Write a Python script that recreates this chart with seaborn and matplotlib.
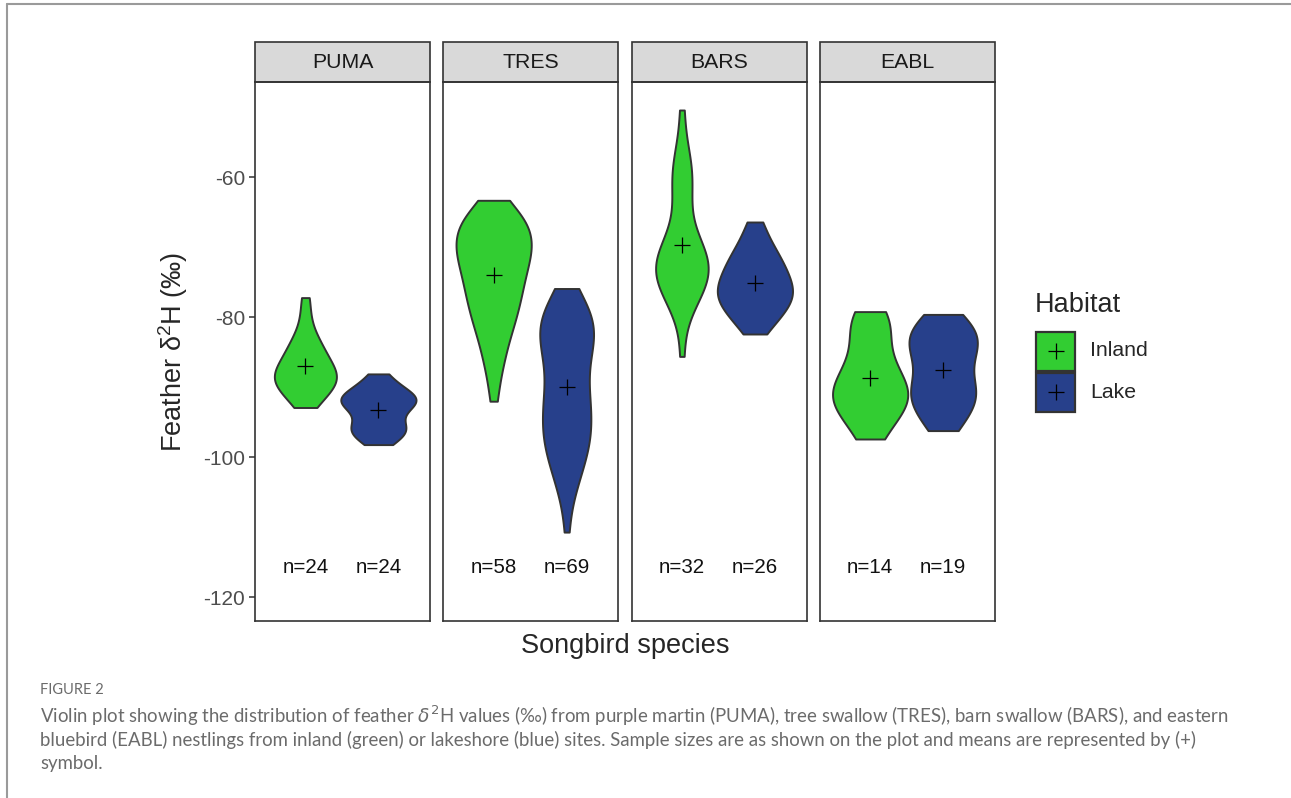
import pandas as pd
import seaborn as sns
import matplotlib.pyplot as plt
from matplotlib.patches import Rectangle
from matplotlib.lines import Line2D

species = ['PUMA', 'TRES', 'BARS', 'EABL']
habitats = ['Inland', 'Lake']
colors = {'Inland': '#32CD32', 'Lake': '#27408B'}

# feather d2H values (per mil)
puma_inland = [-77.2, -79.8, -81.9, -83.0, -83.8, -84.5, -85.1, -85.7, -86.2, -86.7, -87.1, -87.5,
               -87.9, -88.3, -88.6, -88.9, -89.2, -89.5, -89.9, -90.3, -90.8, -91.4, -92.1, -92.9]
puma_lake = [-88.1, -89.0, -89.8, -90.3, -90.7, -91.0, -91.3, -91.6, -91.8, -92.0, -92.3, -92.6,
             -92.9, -93.3, -93.8, -94.6, -95.2, -95.6, -95.9, -96.2, -96.6, -97.0, -97.6, -98.2]
tres_inland = [-63.3, -63.9, -64.4, -64.9, -65.3, -65.7,
               -66.0, -66.3, -66.6, -66.9, -67.2, -67.5, -67.8, -68.1, -68.4, -68.7, -69.0, -69.3,
               -69.6, -69.9, -70.2, -70.5, -70.8, -71.1, -71.4, -71.7, -72.0, -72.3, -72.6,
               -73.0, -73.4, -73.8, -74.2, -74.6, -75.0, -75.4, -75.8, -76.2, -76.6, -77.0, -77.4,
               -77.8, -78.3, -78.8, -79.3, -79.8, -80.3, -80.8, -81.4, -82.0, -82.6,
               -83.4, -84.4, -85.4, -86.4, -87.4, -89.5, -92.0]
tres_lake = [-75.9, -76.5, -77.0, -77.5, -78.0, -78.5, -78.9, -79.3, -79.7,
             -80.1, -80.4, -80.7, -81.0, -81.3, -81.6, -81.9, -82.2, -82.5, -82.8, -83.1, -83.4,
             -83.8, -84.2, -84.6, -85.0, -85.4, -85.8,
             -86.3, -86.8, -87.3, -87.8, -88.3, -88.8, -89.3, -89.8, -90.3, -90.8, -91.2, -91.6,
             -92.0, -92.4, -92.8, -93.2, -93.6, -94.0, -94.4, -94.8, -95.2, -95.6, -96.0, -96.4,
             -96.8, -97.2, -97.6, -98.0, -98.4, -98.8, -99.2, -99.6, -100.0,
             -100.6, -101.3, -102.0, -102.7, -103.4, -104.1, -104.9, -107.2, -110.7]
bars_inland = [-50.4, -55.8, -57.4, -58.6, -59.7, -60.8, -61.9, -63.0, -65.5, -67.6, -68.4, -69.1,
               -69.8, -70.5, -71.1, -71.7, -72.0, -72.3, -72.8, -73.0, -73.3, -73.8, -74.0, -74.3,
               -74.8, -75.4, -76.1, -76.8, -77.5, -78.3, -79.2, -85.6]
bars_lake = [-66.4, -68.0, -69.4, -70.2, -70.9, -71.6, -72.3, -72.8, -73.3, -73.8, -74.3, -74.8,
             -75.3, -75.7, -76.1, -76.5, -76.9, -77.3, -77.7, -78.2, -78.7, -79.2, -79.7, -80.4,
             -81.3, -82.4]
eabl_inland = [-79.2, -80.5, -82.0, -84.5, -86.5, -88.0, -89.2, -90.2, -91.0, -91.8, -92.6, -93.5,
               -95.0, -97.4]
eabl_lake = [-79.6, -80.6, -81.5, -82.3, -83.0, -83.7, -84.4, -85.2, -86.2, -87.4, -88.6, -89.6,
             -90.4, -91.1, -91.8, -92.6, -93.6, -94.8, -96.2]

groups = {
    ('PUMA', 'Inland'): puma_inland, ('PUMA', 'Lake'): puma_lake,
    ('TRES', 'Inland'): tres_inland, ('TRES', 'Lake'): tres_lake,
    ('BARS', 'Inland'): bars_inland, ('BARS', 'Lake'): bars_lake,
    ('EABL', 'Inland'): eabl_inland, ('EABL', 'Lake'): eabl_lake,
}
rows = []
for (sp, hab), vals in groups.items():
    for v in vals:
        rows.append({'species': sp, 'habitat': hab, 'd2H': v})
df = pd.DataFrame(rows)

sns.set_style('white')
plt.rcParams['font.family'] = ['Liberation Sans', 'DejaVu Sans']
plt.rcParams['axes.unicode_minus'] = False

W, H = 1291, 798
fig, axes = plt.subplots(1, 4, sharey=True, figsize=(W / 100, H / 100), dpi=100)
fig.subplots_adjust(left=255 / W, right=995 / W, top=1 - 82 / H, bottom=1 - 621 / H, wspace=13 / 175)

edge = '#333333'
for ax, sp in zip(axes, species):
    sub = df[df['species'] == sp]
    # area scaling shared by the two violins of a panel
    sns.violinplot(data=sub, x='habitat', y='d2H', hue='habitat', order=habitats, hue_order=habitats,
                   palette=colors, saturation=1, cut=0, inner=None, width=1.03, bw_adjust=0.85,
                   density_norm='area', common_norm=True, linewidth=1.4, linecolor=edge,
                   legend=False, ax=ax)
    sns.pointplot(data=sub, x='habitat', y='d2H', order=habitats, estimator='mean', errorbar=None,
                  markers='+', linestyles='none', color='black', markersize=12,
                  markeredgewidth=0.9, ax=ax)
    for i, hab in enumerate(habitats):
        n = (sub['habitat'] == hab).sum()
        ax.text(i, -115.7, f'n={n}', ha='center', va='center', fontsize=14.8, color='#111111')
    ax.set_xlim(-0.69, 1.71)
    ax.set_ylim(-123.4, -46.4)
    ax.set_xticks([])
    ax.set_xlabel('')
    ax.set_ylabel('')
    for s in ax.spines.values():
        s.set_visible(True)
        s.set_color(edge)
        s.set_linewidth(1.2)
    ax.add_patch(Rectangle((0, 1), 1, 40 / 539, transform=ax.transAxes, facecolor='#D9D9D9',
                           edgecolor=edge, linewidth=1.2, clip_on=False))
    ax.text(0.5, 1 + 20 / 539, sp, transform=ax.transAxes, ha='center', va='center',
            fontsize=15.3, color='#1a1a1a')

axes[0].set_yticks([-60, -80, -100, -120])
axes[0].tick_params(axis='y', left=True, length=4, width=1.1, color=edge,
                    labelsize=15, labelcolor='#4d4d4d', pad=3)

fig.text(173 / W, 1 - 352 / H, r'Feather $\mathregular{\delta^2}$H (‰)', rotation=90,
         ha='center', va='center', fontsize=19.5)
fig.text(625 / W, 1 - 646 / H, 'Songbird species', ha='center', va='center', fontsize=19.5)

# legend drawn as keys: filled box with the mean symbol
fig.text(1035 / W, 1 - 305 / H, 'Habitat', ha='left', va='center', fontsize=19.5)
for k, hab in enumerate(habitats):
    top = 331 + 41 * k
    fig.add_artist(Rectangle((1036 / W, 1 - (top + 40) / H), 39 / W, 39 / H,
                             transform=fig.transFigure, facecolor=colors[hab],
                             edgecolor=edge, linewidth=1.6))
    fig.add_artist(Line2D([1055.5 / W], [1 - (top + 19.5) / H], marker='+', color='black',
                          markersize=12, markeredgewidth=0.9, linestyle='none'))
    fig.text(1090 / W, 1 - (top + 20) / H, hab, ha='left', va='center', fontsize=15.3)

# figure frame and caption
fig.add_artist(Line2D([7 / W, 1], [1 - 4 / H, 1 - 4 / H], color='#9a9a9a', linewidth=1.5))
fig.add_artist(Line2D([7 / W, 7 / W], [0, 1 - 4 / H], color='#9a9a9a', linewidth=1.5))
cap = '#6b6b6b'
fig.text(40 / W, 1 - 690 / H, 'FIGURE 2', ha='left', va='center', fontsize=10.5,
         color=cap, family=['Lato', 'DejaVu Sans'])
caption = [
    r'Violin plot showing the distribution of feather $\delta^2$H values (‰) from purple martin (PUMA), tree swallow (TRES), barn swallow (BARS), and eastern',
    'bluebird (EABL) nestlings from inland (green) or lakeshore (blue) sites. Sample sizes are as shown on the plot and means are represented by (+)',
    'symbol.',
]
for k, line in enumerate(caption):
    fig.text(40 / W, 1 - (716 + 23.5 * k) / H, line, ha='left', va='center', fontsize=13.4,
             color=cap, family=['Lato', 'DejaVu Sans'])

fig.savefig('out.png', dpi=100)
